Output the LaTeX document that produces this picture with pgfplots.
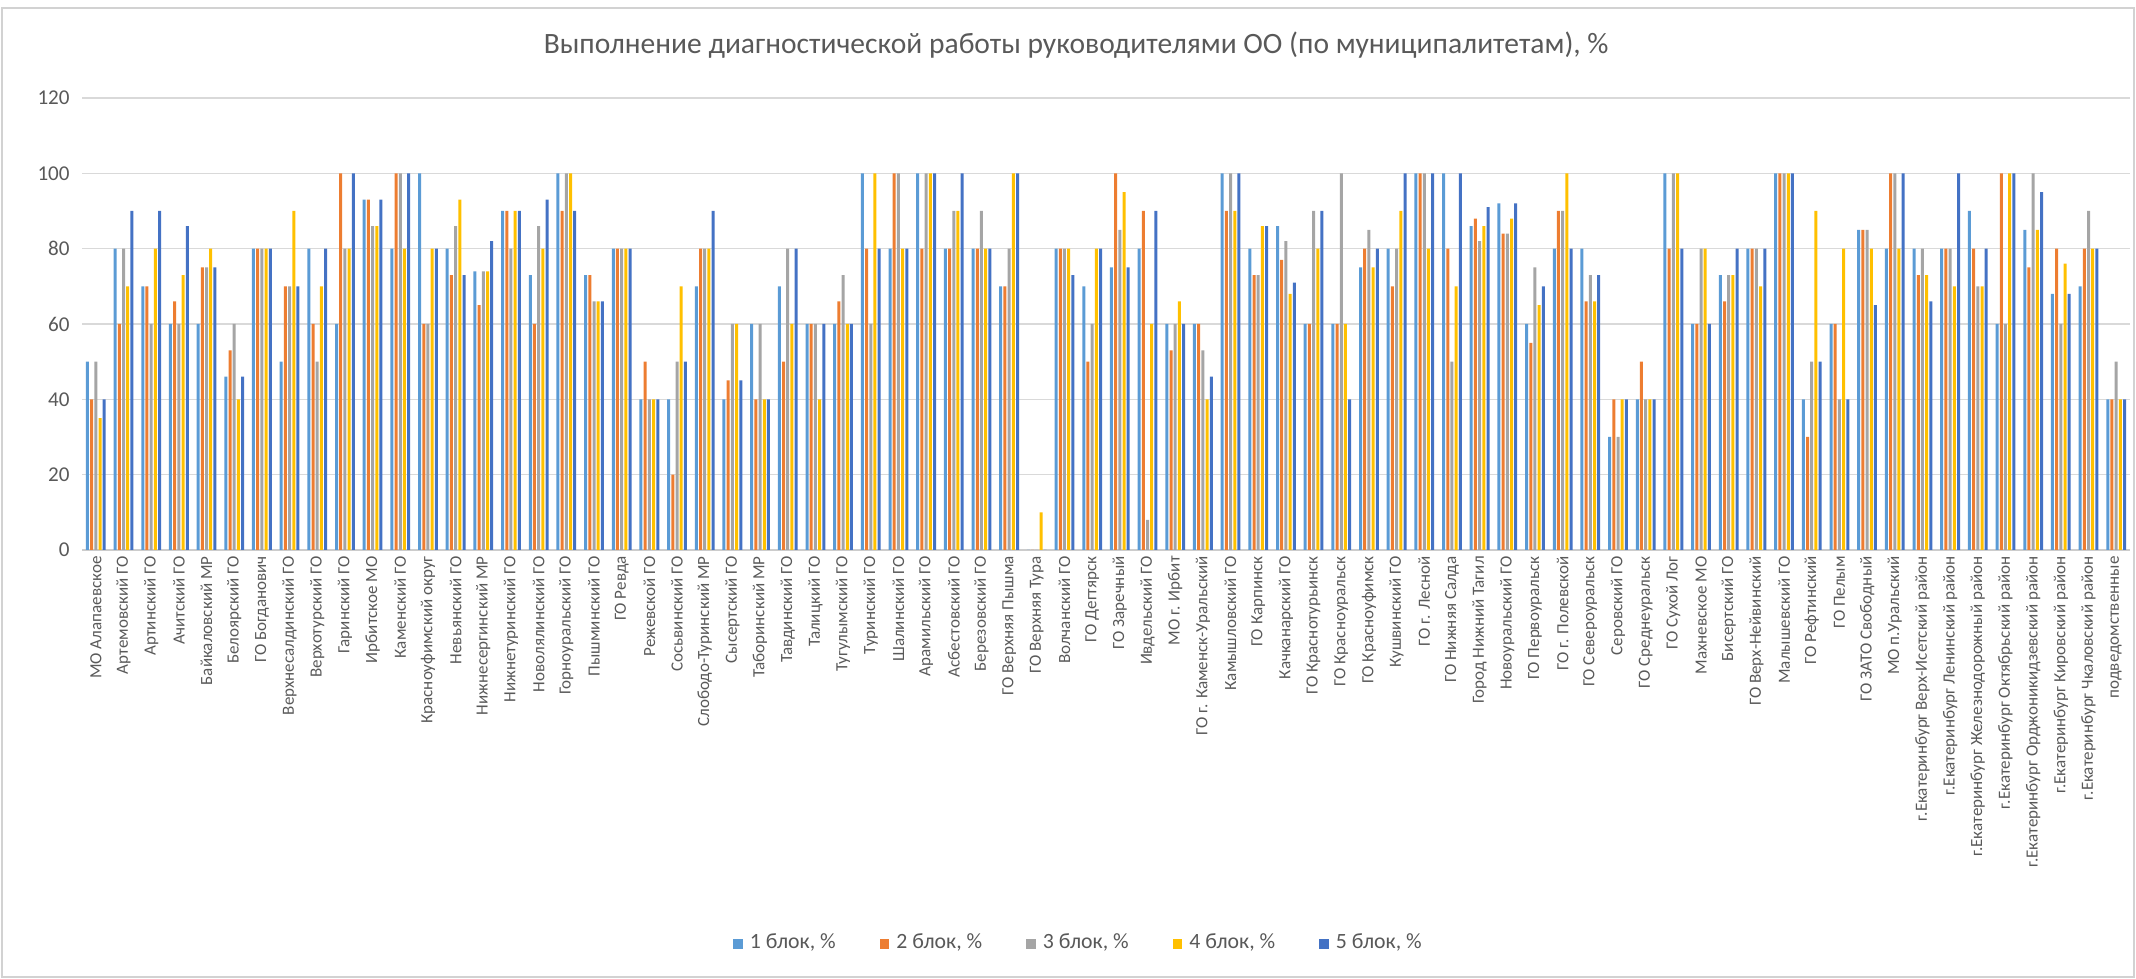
\documentclass[border=0pt]{standalone}
\usepackage{pgfplots}
\pgfplotsset{compat=1.18}
\usepackage{pgfplotstable}
\usepackage{fontspec}
\setmainfont{Carlito}

\definecolor{cone}{HTML}{5B9BD5}
\definecolor{ctwo}{HTML}{ED7D31}
\definecolor{cthree}{HTML}{A5A5A5}
\definecolor{cfour}{HTML}{FFC000}
\definecolor{cfive}{HTML}{4472C4}
\definecolor{txt}{HTML}{595959}

% i = category number, b1..b5 = blocks 1..5, %
\pgfplotstableread{
i  b1  b2  b3  b4  b5
1  50  40  50  35  40
2  80  60  80  70  90
3  70  70  60  80  90
4  60  66  60  73  86
5  60  75  75  80  75
6  46  53  60  40  46
7  80  80  80  80  80
8  50  70  70  90  70
9  80  60  50  70  80
10 60  100 80  80  100
11 93  93  86  86  93
12 80  100 100 80  100
13 100 60  60  80  80
14 80  73  86  93  73
15 74  65  74  74  82
16 90  90  80  90  90
17 73  60  86  80  93
18 100 90  100 100 90
19 73  73  66  66  66
20 80  80  80  80  80
21 40  50  40  40  40
22 40  20  50  70  50
23 70  80  80  80  90
24 40  45  60  60  45
25 60  40  60  40  40
26 70  50  80  60  80
27 60  60  60  40  60
28 60  66  73  60  60
29 100 80  60  100 80
30 80  100 100 80  80
31 100 80  100 100 100
32 80  80  90  90  100
33 80  80  90  80  80
34 70  70  80  100 100
35 0   0   0   10  0
36 80  80  80  80  73
37 70  50  60  80  80
38 75  100 85  95  75
39 80  90  8   60  90
40 60  53  60  66  60
41 60  60  53  40  46
42 100 90  100 90  100
43 80  73  73  86  86
44 86  77  82  68  71
45 60  60  90  80  90
46 60  60  100 60  40
47 75  80  85  75  80
48 80  70  80  90  100
49 100 100 100 80  100
50 100 80  50  70  100
51 86  88  82  86  91
52 92  84  84  88  92
53 60  55  75  65  70
54 80  90  90  100 80
55 80  66  73  66  73
56 30  40  30  40  40
57 40  50  40  40  40
58 100 80  100 100 80
59 60  60  80  80  60
60 73  66  73  73  80
61 80  80  80  70  80
62 100 100 100 100 100
63 40  30  50  90  50
64 60  60  40  80  40
65 85  85  85  80  65
66 80  100 100 80  100
67 80  73  80  73  66
68 80  80  80  70  100
69 90  80  70  70  80
70 60  100 60  100 100
71 85  75  100 85  95
72 68  80  60  76  68
73 70  80  90  80  80
74 40  40  50  40  40
}\data

\begin{document}
\begin{tikzpicture}
\path[use as bounding box] (-0.82cm,-4.29cm) rectangle (20.54cm,5.50cm);
\draw[gray!35, line width=0.5pt] (-0.80cm,-4.27cm) rectangle (20.52cm,5.42cm);
\begin{axis}[
    at={(0,0)}, anchor=south west,
    scale only axis,
    width=20.48cm, height=4.52cm,
    ybar=0.012cm, bar width=0.03cm,
    xmin=0.5, xmax=74.5,
    ymin=0, ymax=120,
    ytick={0,20,...,120},
    xtick={1,...,74},
    xticklabels={МО Алапаевское, Артемовский ГО, Артинский ГО, Ачитский ГО,
      Байкаловский МР, Белоярский ГО, ГО Богданович, Верхнесалдинский ГО,
      Верхотурский ГО, Гаринский ГО, Ирбитское МО, Каменский ГО,
      Красноуфимский округ, Невьянский ГО, Нижнесергинский МР, Нижнетуринский ГО,
      Новолялинский ГО, Горноуральский ГО, Пышминский ГО, ГО Ревда,
      Режевской ГО, Сосьвинский ГО, Слободо-Туринский МР, Сысертский ГО,
      Таборинский МР, Тавдинский ГО, Талицкий ГО, Тугулымский ГО,
      Туринский ГО, Шалинский ГО, Арамильский ГО, Асбестовский ГО,
      Березовский ГО, ГО Верхняя Пышма, ГО Верхняя Тура, Волчанский ГО,
      ГО Дегтярск, ГО Заречный, Ивдельский ГО, МО г. Ирбит,
      ГО г. Каменск-Уральский, Камышловский ГО, ГО Карпинск, Качканарский ГО,
      ГО Краснотурьинск, ГО Красноуральск, ГО Красноуфимск, Кушвинский ГО,
      ГО г. Лесной, ГО Нижняя Салда, Город Нижний Тагил, Новоуральский ГО,
      ГО Первоуральск, ГО г. Полевской, ГО Североуральск, Серовский ГО,
      ГО Среднеуральск, ГО Сухой Лог, Махневское МО, Бисертский ГО,
      ГО Верх-Нейвинский, Малышевский ГО, ГО Рефтинский, ГО Пелым,
      ГО ЗАТО Свободный, МО п.Уральский, г.Екатеринбург Верх-Исетский район,
      г.Екатеринбург Ленинский район, г.Екатеринбург Железнодорожный район,
      г.Екатеринбург Октябрьский район, г.Екатеринбург Орджоникидзевский район,
      г.Екатеринбург Кировский район, г.Екатеринбург Чкаловский район,
      подведомственные},
    x tick label style={rotate=90, anchor=east, font=\fontsize{4.85}{5}\selectfont,
      text=txt, inner sep=1.6pt},
    y tick label style={font=\fontsize{6}{7}\selectfont, text=txt},
    /pgf/number format/assume math mode=true,
    major tick length=0pt,
    ymajorgrids,
    grid style={draw=gray!30, line width=0.4pt},
    axis x line*=bottom, axis y line*=left,
    x axis line style={draw=gray!40, line width=0.5pt, -},
    y axis line style={draw=none},
    legend columns=-1,
    legend style={at={(0.4878,-0.872)}, anchor=center, draw=none,
      font=\fontsize{6.2}{7}\selectfont, text=txt,
      /tikz/every even column/.append style={column sep=0.37cm}},
    legend image code/.code={\fill[#1] (0cm,-0.048cm) rectangle (0.096cm,0.048cm);},
    clip=false,
]
\addplot[fill=cone, draw=none] table[x=i, y=b1]{\data};
\addplot[fill=ctwo, draw=none] table[x=i, y=b2]{\data};
\addplot[fill=cthree, draw=none] table[x=i, y=b3]{\data};
\addplot[fill=cfour, draw=none] table[x=i, y=b4]{\data};
\addplot[fill=cfive, draw=none] table[x=i, y=b5]{\data};
\legend{1 блок\rlap{, \%}\phantom{, \%}, 2 блок\rlap{, \%}\phantom{, \%}, 3 блок\rlap{, \%}\phantom{, \%}, 4 блок\rlap{, \%}\phantom{, \%}, 5 блок\rlap{, \%}\phantom{, \%}}
\node[font=\fontsize{8.4}{10}\selectfont, text=txt] at (rel axis cs:0.4854,1.117)
  {Выполнение диагностической работы руководителями ОО (по муниципалитетам), \%};
\end{axis}
\end{tikzpicture}
\end{document}
